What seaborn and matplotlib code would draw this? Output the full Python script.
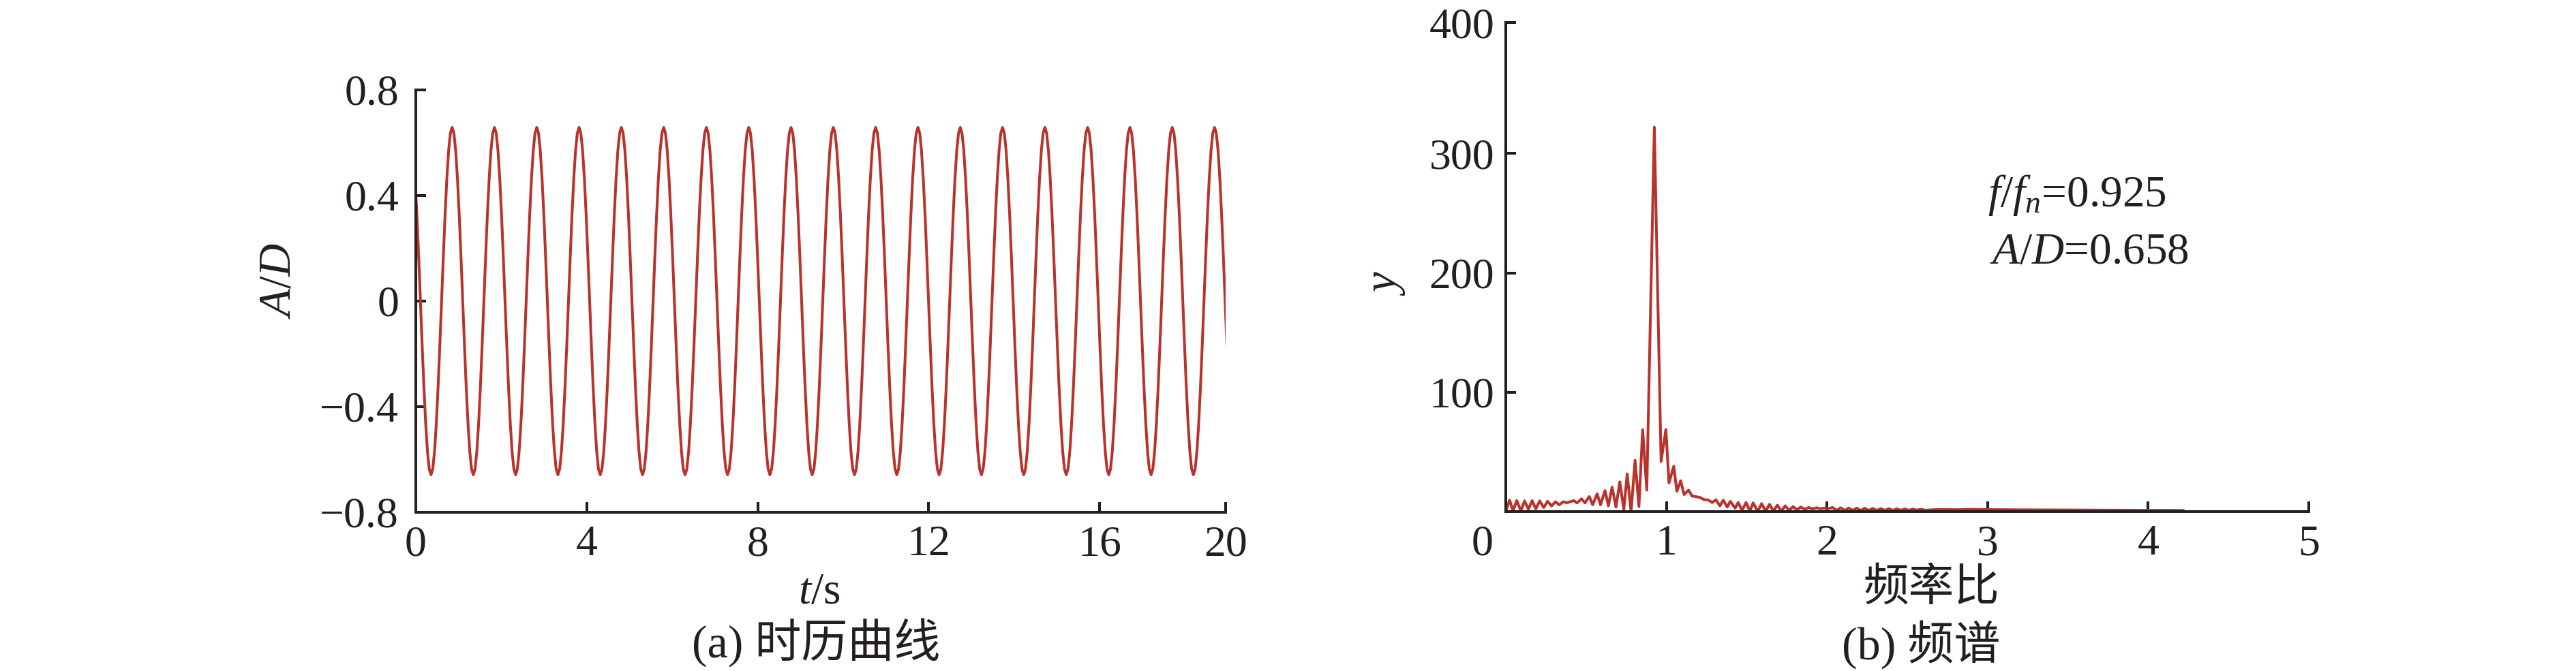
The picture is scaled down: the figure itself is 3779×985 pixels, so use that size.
import numpy as np
import pandas as pd
import matplotlib
matplotlib.use("Agg")
import matplotlib.pyplot as plt
import matplotlib.transforms as mtransforms
import seaborn as sns

peak_t = [0.85, 1.84, 2.83, 3.82, 4.81, 5.80, 6.80, 7.79, 8.78, 9.77,
          10.76, 11.75, 12.74, 13.73, 14.72, 15.72, 16.71, 17.70, 18.69]
cycle_AD = [0.658, 0.636, 0.570, 0.465, 0.329, 0.170, 0.0, -0.170, -0.329, -0.465, -0.570, -0.636,
            -0.658, -0.636, -0.570, -0.465, -0.329, -0.170, 0.0, 0.170, 0.329, 0.465, 0.570, 0.636]
t_first, AD_first = 0.0, 0.40
t_last = 18.98

# (b) spectrum
freq_ratio = [0.000, 0.024, 0.045, 0.068, 0.094, 0.117, 0.141, 0.164, 0.187, 0.211,
              0.236, 0.260, 0.285, 0.309, 0.333, 0.358, 0.380, 0.404, 0.423, 0.444,
              0.472, 0.493, 0.520, 0.541, 0.569, 0.590, 0.618, 0.639, 0.662, 0.686,
              0.710, 0.735, 0.756, 0.780, 0.805, 0.829, 0.852, 0.878, 0.925, 0.967,
              0.997, 1.016, 1.046, 1.065, 1.089, 1.110, 1.138, 1.160, 1.185, 1.210,
              1.235, 1.260, 1.285, 1.309, 1.333, 1.354, 1.379, 1.398, 1.428, 1.447,
              1.471, 1.496, 1.520, 1.540, 1.569, 1.593, 1.618, 1.642, 1.667, 1.691,
              1.715, 1.740, 1.764, 1.789, 1.813, 1.837, 1.862, 1.886, 1.910, 1.935,
              1.960, 1.985, 2.010, 2.035, 2.060, 2.085, 2.110, 2.135, 2.160, 2.185,
              2.210, 2.235, 2.260, 2.285, 2.310, 2.335, 2.360, 2.385, 2.410, 2.435,
              2.460, 2.485, 2.510, 2.535, 2.560, 2.585, 2.610, 2.700, 2.800, 2.900,
              3.000, 3.200, 3.400, 3.600, 3.800, 4.000, 4.220]
spec_y = [0.5, 9.6, 0.5, 9.2, 0.6, 9.0, 1.9, 9.2, 2.3, 9.0,
          3.4, 8.6, 4.8, 8.2, 5.7, 8.2, 7.4, 8.4, 9.2, 7.3,
          10.7, 7.3, 12.6, 5.7, 14.9, 5.7, 17.6, 4.8, 20.5, 3.8,
          24.9, 1.9, 31.5, 0.0, 43.0, 4.2, 68.5, 18.0, 322.0, 42.0,
          68.8, 24.0, 38.0, 17.0, 25.8, 14.3, 18.0, 13.0, 12.5, 11.8,
          10.0, 9.8, 7.6, 9.9, 4.8, 9.6, 3.8, 8.6, 2.9, 7.6,
          1.0, 7.6, 0.4, 7.3, 0.2, 6.7, 0.2, 6.1, 0.4, 5.4,
          0.4, 4.8, 1.0, 4.2, 1.5, 3.8, 1.9, 3.4, 2.3, 3.2,
          2.4, 3.0, 2.6, 3.4, 1.0, 3.2, 1.0, 3.0, 1.0, 2.9,
          1.0, 2.8, 1.0, 2.6, 1.0, 2.5, 1.0, 2.4, 1.0, 2.3,
          1.1, 2.2, 1.1, 2.1, 1.2, 2.0, 1.2, 1.8, 1.6, 1.9,
          1.7, 1.5, 1.4, 1.3, 1.2, 1.1, 1.0]

t_ticks = [0, 4, 8, 12, 16, 18.95]
t_labels = ["0", "4", "8", "12", "16", "20"]
AD_ticks = [-0.8, -0.4, 0, 0.4, 0.8]
AD_labels = ["\u22120.8", "\u22120.4", "0", "0.4", "0.8"]
fr_ticks = [0, 1, 2, 3, 4, 5]
fr_labels = ["0", "1", "2", "3", "4", "5"]
y_ticks = [100, 200, 300, 409.7]
y_labels = ["100", "200", "300", "400"]

# build the time history from the crests
peaks = [2 * peak_t[0] - peak_t[1]] + peak_t
t_hist, AD_hist = [t_first], [AD_first]
for i, p in enumerate(peaks):
    nxt = peaks[i + 1] if i + 1 < len(peaks) else p + (p - peaks[i - 1])
    step = (nxt - p) / len(cycle_AD)
    for k, v in enumerate(cycle_AD):
        tk = p + k * step
        if t_first < tk <= t_last:
            t_hist.append(tk)
            AD_hist.append(v)
df_a = pd.DataFrame({"t": t_hist, "AD": AD_hist})
df_b = pd.DataFrame({"fr": freq_ratio, "y": spec_y})

sns.set_theme(style="ticks")
plt.rcParams["font.family"] = ["Liberation Serif", "Noto Sans CJK SC"]
plt.rcParams["mathtext.fontset"] = "custom"
plt.rcParams["mathtext.rm"] = "Liberation Serif"
plt.rcParams["mathtext.it"] = "Liberation Serif:italic"

red = "#B9322C"
ink = "#231F20"
cjk = ["Liberation Serif", "Noto Sans CJK SC"]

fig = plt.figure(figsize=(37.8, 9.85), dpi=100)
ax1 = fig.add_axes([0.16138, 0.23655, 0.31429, 0.62944])
ax2 = fig.add_axes([0.58439, 0.23756, 0.31164, 0.72893])

sns.lineplot(data=df_a, x="t", y="AD", ax=ax1, color=red, lw=2.9, estimator=None, sort=False)
sns.lineplot(data=df_b, x="fr", y="y", ax=ax2, color=red, lw=2.9, estimator=None, sort=False)

for ax in (ax1, ax2):
    ax.set_xlabel("")
    ax.set_ylabel("")
    for s in ("top", "right"):
        ax.spines[s].set_visible(False)
    for s in ("left", "bottom"):
        ax.spines[s].set_linewidth(2.9)
        ax.spines[s].set_color(ink)
    ax.tick_params(direction="in", length=11, width=2.9, color=ink,
                   labelsize=46, labelcolor=ink)
    ax.tick_params(axis="x", pad=14)

ax1.set_xlim(0, 18.95)
ax1.set_ylim(-0.8, 0.8)
ax1.set_xticks(t_ticks, t_labels)
ax1.set_yticks(AD_ticks, AD_labels)
ax1.tick_params(axis="y", pad=18)

ax2.set_xlim(0, 5)
ax2.set_ylim(0, 409.7)
ax2.set_xticks(fr_ticks, fr_labels)
ax2.set_yticks(y_ticks, y_labels)
ax2.tick_params(axis="y", pad=12)
lbl0 = ax2.get_xticklabels()[0]
lbl0.set_transform(lbl0.get_transform() + mtransforms.ScaledTranslation(-0.34, 0, fig.dpi_scale_trans))

ax1.text(-0.1692, 0.548, r"$A/D$", transform=ax1.transAxes, rotation=90,
         ha="center", va="center", fontsize=48, color=ink)
ax1.text(0.498, -0.19, r"$t$/s", transform=ax1.transAxes,
         ha="center", va="center", fontsize=47, color=ink)
ax1.text(0.494, -0.31, "(a) 时历曲线", transform=ax1.transAxes,
         ha="center", va="center", fontsize=49, color=ink, family=cjk)

ax2.text(-0.1494, 0.468, r"$y$", transform=ax2.transAxes, rotation=90,
         ha="center", va="center", fontsize=48, color=ink)
ax2.text(0.53, -0.159, "频率比", transform=ax2.transAxes,
         ha="center", va="center", fontsize=48, color=ink, family=cjk)
ax2.text(0.517, -0.2716, "(b) 频谱", transform=ax2.transAxes,
         ha="center", va="center", fontsize=49, color=ink, family=cjk)
ax2.text(0.600, 0.6476, r"$f/f_n$=0.925", transform=ax2.transAxes,
         ha="left", va="center", fontsize=47, color=ink)
ax2.text(0.603, 0.529, r"$A/D$=0.658", transform=ax2.transAxes,
         ha="left", va="center", fontsize=47, color=ink)

fig.savefig("out.png", dpi=100, facecolor="white")
